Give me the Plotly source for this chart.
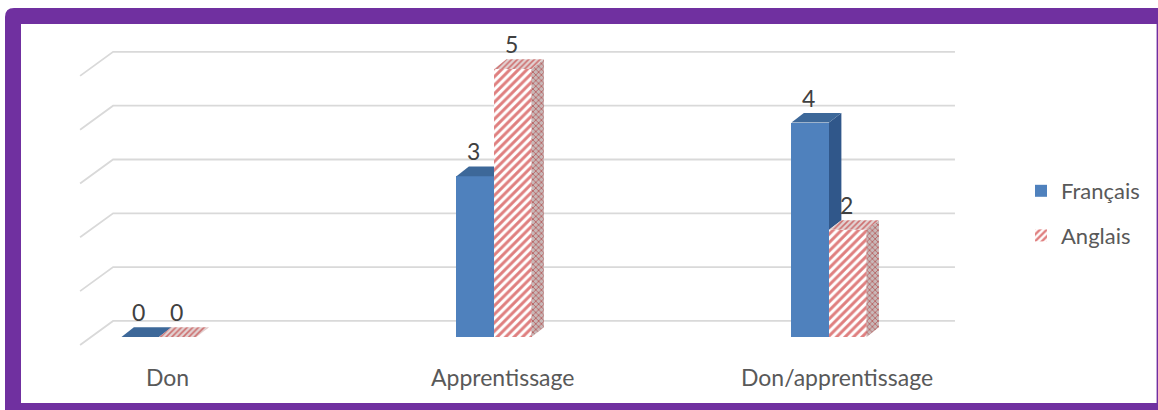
import plotly.graph_objects as go

# ---- data -------------------------------------------------------------
categories = ["Don", "Apprentissage", "Don/apprentissage"]
francais = [0, 3, 4]
anglais = [0, 5, 2]
series_names = ["Français", "Anglais"]
y_ticks = [0, 1, 2, 3, 4, 5]

# ---- styling / pseudo-3D geometry (axis units) ------------------------
FONT = "Lato"
TXT = "#595959"
BLUE = "#4F81BD"
BLUE_TOP = "#3D6899"
BLUE_SIDE = "#30578A"
RED = "#C00000"
GRID = "#D9D9D9"
PURPLE = "#7030A0"

BAR_W = 0.112          # width of one bar
DX, DY = 0.037, 0.18   # depth of a bar (top / side faces)
WALL_DX, WALL_DY = 0.0985, 0.448
WALL_Y0, WALL_STEP = 0.30, 1.004
WALL_LEFT, WALL_RIGHT = -0.137, 2.376

W, H = 1158, 410
ML, MR, MT, MB = 21, 8, 24, 7
X_RANGE = [-0.4119, 2.9582]
Y_RANGE = [-1.2313, 5.8396]

red_pattern = dict(shape="/", fgcolor=RED, bgcolor="white", size=6, solidity=0.5)

fig = go.Figure()

# front faces
fig.add_trace(go.Bar(
    x=[i - BAR_W / 2 for i in range(len(categories))], y=francais, width=BAR_W,
    name=series_names[0], marker=dict(color=BLUE, line=dict(width=0)),
    legendgroup="fr", hoverinfo="skip"))
fig.add_trace(go.Bar(
    x=[i + BAR_W / 2 for i in range(len(categories))], y=anglais, width=BAR_W,
    name=series_names[1], marker=dict(color="white", line=dict(width=0), pattern=red_pattern),
    legendgroup="en", hoverinfo="skip"))


def poly(pts, **kw):
    xs = [p[0] for p in pts] + [pts[0][0]]
    ys = [p[1] for p in pts] + [pts[0][1]]
    fig.add_trace(go.Scatter(x=xs, y=ys, mode="lines", fill="toself", line=dict(width=0),
                             showlegend=False, hoverinfo="skip", **kw))


for i, (vb, vr) in enumerate(zip(francais, anglais)):
    x0, x1 = i - BAR_W, i
    # Français: side face (only the part not hidden by the Anglais bar)
    if vb > vr:
        lo = max(vr, 0)
        poly([(x1, lo), (x1 + DX, lo + DY), (x1 + DX, vb + DY), (x1, vb)], fillcolor=BLUE_SIDE)
    # Français: top face
    if vr >= vb + DY:
        poly([(x0, vb), (x1, vb), (x1, vb + DY), (x0 + DX, vb + DY)], fillcolor=BLUE_TOP)
    else:
        poly([(x0, vb), (x1, vb), (x1 + DX, vb + DY), (x0 + DX, vb + DY)], fillcolor=BLUE_TOP)
    # Anglais: side and top faces
    r0, r1 = i, i + BAR_W
    if vr > 0:
        poly([(r1, 0), (r1 + DX, DY), (r1 + DX, vr + DY), (r1, vr)], fillcolor="#C9B8B8",
             fillpattern=dict(shape="x", fgcolor="#A81010", bgcolor="#C8B8B8", size=4, solidity=0.4))
    poly([(r0, vr), (r1, vr), (r1 + DX, vr + DY), (r0 + DX, vr + DY)], fillcolor="#E6D6D6",
         fillpattern=dict(shape="/", fgcolor="#B80A0A", bgcolor="#E2D2D2", size=4, solidity=0.4))

# gridlines on the back wall and left side wall
shapes = []
for k in y_ticks:
    yb = WALL_Y0 + k * WALL_STEP
    shapes.append(dict(type="path", xref="x", yref="y", layer="below",
                       path=f"M{WALL_LEFT - WALL_DX},{yb - WALL_DY} L{WALL_LEFT},{yb} L{WALL_RIGHT},{yb}",
                       line=dict(color=GRID, width=1.8)))


# purple frame around the chart
def px(x):
    return (x - ML) / (W - ML - MR)


def py(y):
    return (H - MB - y) / (H - MT - MB)


r = 9
outer = (f"M{px(5)},{py(410)} L{px(5)},{py(8 + r)} Q{px(5)},{py(8)} {px(5 + r)},{py(8)} "
         f"L{px(1158)},{py(8)} L{px(1158)},{py(410)} Z")
inner = f"M{px(21)},{py(24)} L{px(1156.6)},{py(24)} L{px(1156.6)},{py(403)} L{px(21)},{py(403)} Z"
shapes.append(dict(type="path", xref="paper", yref="paper", layer="below", path=outer,
                   fillcolor=PURPLE, line=dict(width=0)))
shapes.append(dict(type="path", xref="paper", yref="paper", layer="below", path=inner,
                   fillcolor="white", line=dict(width=0)))

annotations = []
# value labels above each bar
for i, (vb, vr) in enumerate(zip(francais, anglais)):
    for xc, v in ((i - BAR_W / 2, vb), (i + BAR_W / 2, vr)):
        annotations.append(dict(x=xc - 0.004, y=v + 0.466, text=str(v), showarrow=False,
                                xanchor="center", yanchor="middle",
                                font=dict(family=FONT, size=23, color="#404040")))
# category labels
for i, c in enumerate(categories):
    annotations.append(dict(x=i + 0.024, y=-0.746, text=c, showarrow=False,
                            xanchor="center", yanchor="middle",
                            font=dict(family=FONT, size=23, color=TXT)))

fig.update_layout(
    width=W, height=H,
    margin=dict(l=ML, r=MR, t=MT, b=MB, pad=0),
    paper_bgcolor="white", plot_bgcolor="rgba(0,0,0,0)",
    barmode="overlay", bargap=0,
    xaxis=dict(range=X_RANGE, visible=False, fixedrange=True),
    yaxis=dict(range=Y_RANGE, visible=False, fixedrange=True),
    shapes=shapes, annotations=annotations,
    showlegend=True,
    legend=dict(x=px(1021), y=py(170), xanchor="left", yanchor="top",
                font=dict(family=FONT, size=22, color=TXT), bgcolor="rgba(0,0,0,0)",
                tracegroupgap=13, itemwidth=30, traceorder="grouped"),
)

fig.write_html("out.html")
